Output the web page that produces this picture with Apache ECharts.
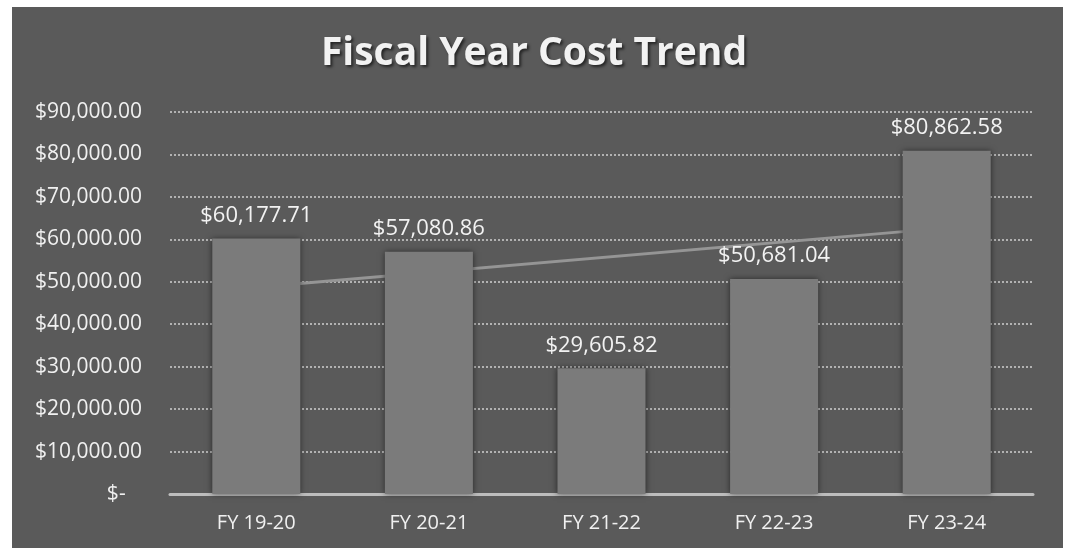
<!DOCTYPE html>
<html>
<head>
<meta charset="utf-8">
<script src="https://cdn.jsdelivr.net/npm/echarts@6/dist/echarts.min.js"></script>
<style>
html,body{margin:0;padding:0;background:#fff;}
#c{width:1068px;height:548px;}
</style>
</head>
<body>
<div id="c"></div>
<script>
const categories = ['FY 19-20', 'FY 20-21', 'FY 21-22', 'FY 22-23', 'FY 23-24'];
const costs = [60177.71, 57080.86, 29605.82, 50681.04, 80862.58];
// linear trendline endpoints (intermediate points left empty)
const trend = [48700, null, null, null, 62700];
const yTicks = { min: 0, max: 90000, interval: 10000 };

function money(v) {
  if (v === 0) return '$-   ';
  return '$' + v.toLocaleString('en-US', { minimumFractionDigits: 2, maximumFractionDigits: 2 });
}

const chart = echarts.init(document.getElementById('c'));
chart.setOption({
  backgroundColor: '#ffffff',
  animation: false,
  graphic: [{
    type: 'rect', z: -10, silent: true,
    shape: { x: 12, y: 7, width: 1051, height: 541 },
    style: { fill: '#5a5a5a' }
  }],
  title: {
    text: 'Fiscal Year Cost Trend',
    left: 'center', top: 29,
    textStyle: {
      fontFamily: 'Open Sans', fontWeight: 'bold', fontSize: 39, color: '#f2f2f2',
      textShadowColor: 'rgba(0,0,0,0.6)', textShadowBlur: 3, textShadowOffsetX: 2, textShadowOffsetY: 2
    }
  },
  grid: { left: 170, right: 35, top: 112, bottom: 54, containLabel: false },
  xAxis: {
    type: 'category', data: categories,
    axisLine: { lineStyle: { color: '#bdbdbd', width: 3 } },
    axisTick: { show: false },
    axisLabel: { color: '#f0f0f0', fontFamily: 'Open Sans', fontSize: 20, margin: 19 }
  },
  yAxis: {
    type: 'value', min: yTicks.min, max: yTicks.max, interval: yTicks.interval,
    axisLine: { show: false }, axisTick: { show: false },
    axisLabel: { color: '#f0f0f0', fontFamily: 'Open Sans', fontSize: 21, margin: 28, formatter: money },
    splitLine: { lineStyle: { color: '#d0d0d0', type: [2, 2], width: 1.5 } }
  },
  series: [
    {
      type: 'line', data: trend, connectNulls: true, symbol: 'none', z: 1,
      lineStyle: { color: '#959595', width: 3 }
    },
    {
      type: 'bar', data: costs, barWidth: '51%', z: 3,
      itemStyle: { color: '#7b7b7b', shadowColor: 'rgba(0,0,0,0.55)', shadowBlur: 6 },
      label: {
        show: true, position: 'top', distance: 12, color: '#f2f2f2',
        fontFamily: 'Open Sans', fontSize: 22,
        formatter: p => money(p.value)
      }
    }
  ]
});
</script>
</body>
</html>
